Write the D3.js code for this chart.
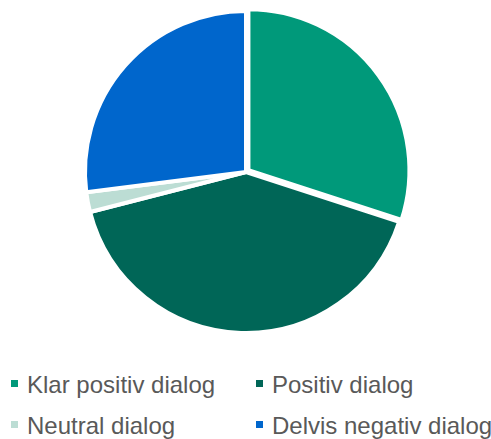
<!DOCTYPE html>
<html>
<head>
<meta charset="utf-8">
<script src="https://cdn.jsdelivr.net/npm/d3@7"></script>
<style>
  body { margin: 0; background: #fff; }
  text { font-family: Arial, "Liberation Sans", sans-serif; }
</style>
</head>
<body>
<svg id="svg" width="491" height="439"></svg>
<script>
// Data
var categories = ["Klar positiv dialog", "Positiv dialog", "Neutral dialog", "Delvis negativ dialog"];
var values = [30, 41, 2, 27];
var colors = ["#00997a", "#006657", "#bcddd4", "#0066cc"];

var svg = d3.select("#svg");

var cx = 246, cy = 172, radius = 161;

var pie = d3.pie().sort(null).value(d => d.value);
var arc = d3.arc().innerRadius(0).outerRadius(radius);

var data = categories.map((c, i) => ({ name: c, value: values[i], color: colors[i] }));

var gPie = svg.append("g").attr("transform", "translate(" + cx + "," + cy + ")");

gPie.selectAll("path")
  .data(pie(data))
  .enter().append("path")
  .attr("d", arc)
  .attr("fill", d => d.data.color)
  .attr("stroke", "#fff")
  .attr("stroke-width", 4)
  .attr("stroke-linejoin", "round")
  .attr("transform", (d, i) => {
    // first slice pulled out a little
    if (i != 0) return null;
    var mid = (d.startAngle + d.endAngle) / 2, off = 3;
    return "translate(" + (Math.sin(mid) * off) + "," + (-Math.cos(mid) * off) + ")";
  });

// Legend, two columns
var legend = svg.selectAll(".legend")
  .data(data)
  .enter().append("g")
  .attr("class", "legend")
  .attr("transform", (d, i) => "translate(" + (i % 2 == 0 ? 11 : 256) + "," + (393 + Math.floor(i / 2) * 41) + ")");

legend.append("rect")
  .attr("x", 0)
  .attr("y", -13)
  .attr("width", 7)
  .attr("height", 7)
  .attr("fill", d => d.color);

legend.append("text")
  .attr("x", 16)
  .attr("y", 0)
  .attr("font-size", 24)
  .attr("fill", "#595959")
  .text(d => d.name);
</script>
</body>
</html>
